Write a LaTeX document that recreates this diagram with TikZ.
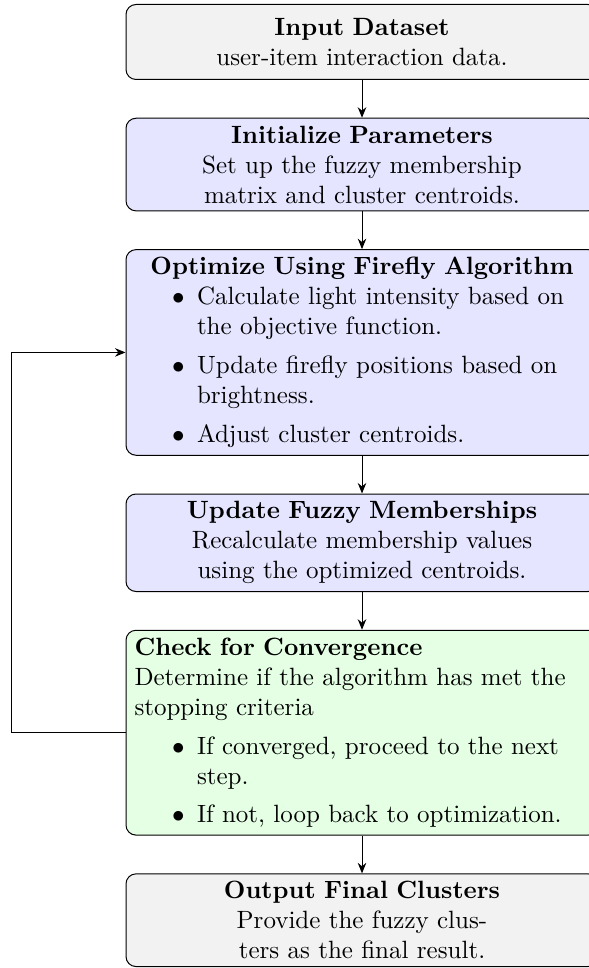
\documentclass[tikz,border=0pt]{standalone}
\usepackage{amsmath,amssymb}
\usepackage{enumitem}
\usetikzlibrary{positioning,arrows,arrows.meta}
\setlist[itemize]{label=$\bullet$, parsep=0pt, partopsep=0pt}

\tikzset{
        stepbox/.style={draw, rounded corners=4pt, minimum width=188.8pt, minimum height=30pt, inner xsep=3.33pt, inner ysep=3pt},
        ioboxfill/.style={stepbox, fill=gray!10},
        procfill/.style={stepbox, fill=blue!10},
        convfill/.style={stepbox, fill=green!10},
}

\begin{document}
\begin{tikzpicture}[>={Stealth[length=4.2pt, width=3.4pt]}, node distance=15.1pt]
        \useasboundingbox (0,0) rectangle (235.2pt,-387.2pt);
        \node (in) [ioboxfill, anchor=north, align=center, text width=5cm] at (144.8pt,-1.6pt)
        {\textbf{Input Dataset}\\ user-item interaction data.};
        \node (init) [procfill, below=of in, align=center, text width=5cm]
        {\textbf{Initialize Parameters}\\ Set up the fuzzy membership matrix and cluster centroids.};
        \node (opt) [procfill, below=of init, align=left, text width=182pt]
        {{\centering\textbf{Optimize Using Firefly Algorithm}\par}
        \begin{itemize}[topsep=0pt, itemsep=3.6pt]
        \item Calculate light intensity based on the objective function.
        \item Update firefly positions based on brightness.
        \item Adjust cluster centroids.
        \end{itemize}};
        \node (upd) [procfill, below=of opt, align=center, text width=5cm]
        {\textbf{Update Fuzzy Memberships}\\ Recalculate membership values using the optimized centroids.};
        \node (conv) [convfill, below=of upd, align=left, text width=182pt]
        {\textbf{Check for Convergence}\\ Determine if the algorithm has met the stopping criteria
        \begin{itemize}[topsep=3.6pt, itemsep=3.4pt]
        \item If converged, proceed to the next step.
        \item If not, loop back to optimization.
        \end{itemize}};
        \node (out) [ioboxfill, below=of conv, align=center, text width=4cm]
        {\textbf{Output Final Clusters}\\ Provide the fuzzy clus-\\ters as the final result.};
        \path[->]
        (in) edge (init)
        (init) edge (opt)
        (opt) edge (upd)
        (upd) edge (conv)
        (conv) edge (out)
        ;
        % loop back to the optimization step
        \draw[->] (conv.west) -- ++(-45.6pt,0) |- (opt.west);
\end{tikzpicture}
\end{document}
